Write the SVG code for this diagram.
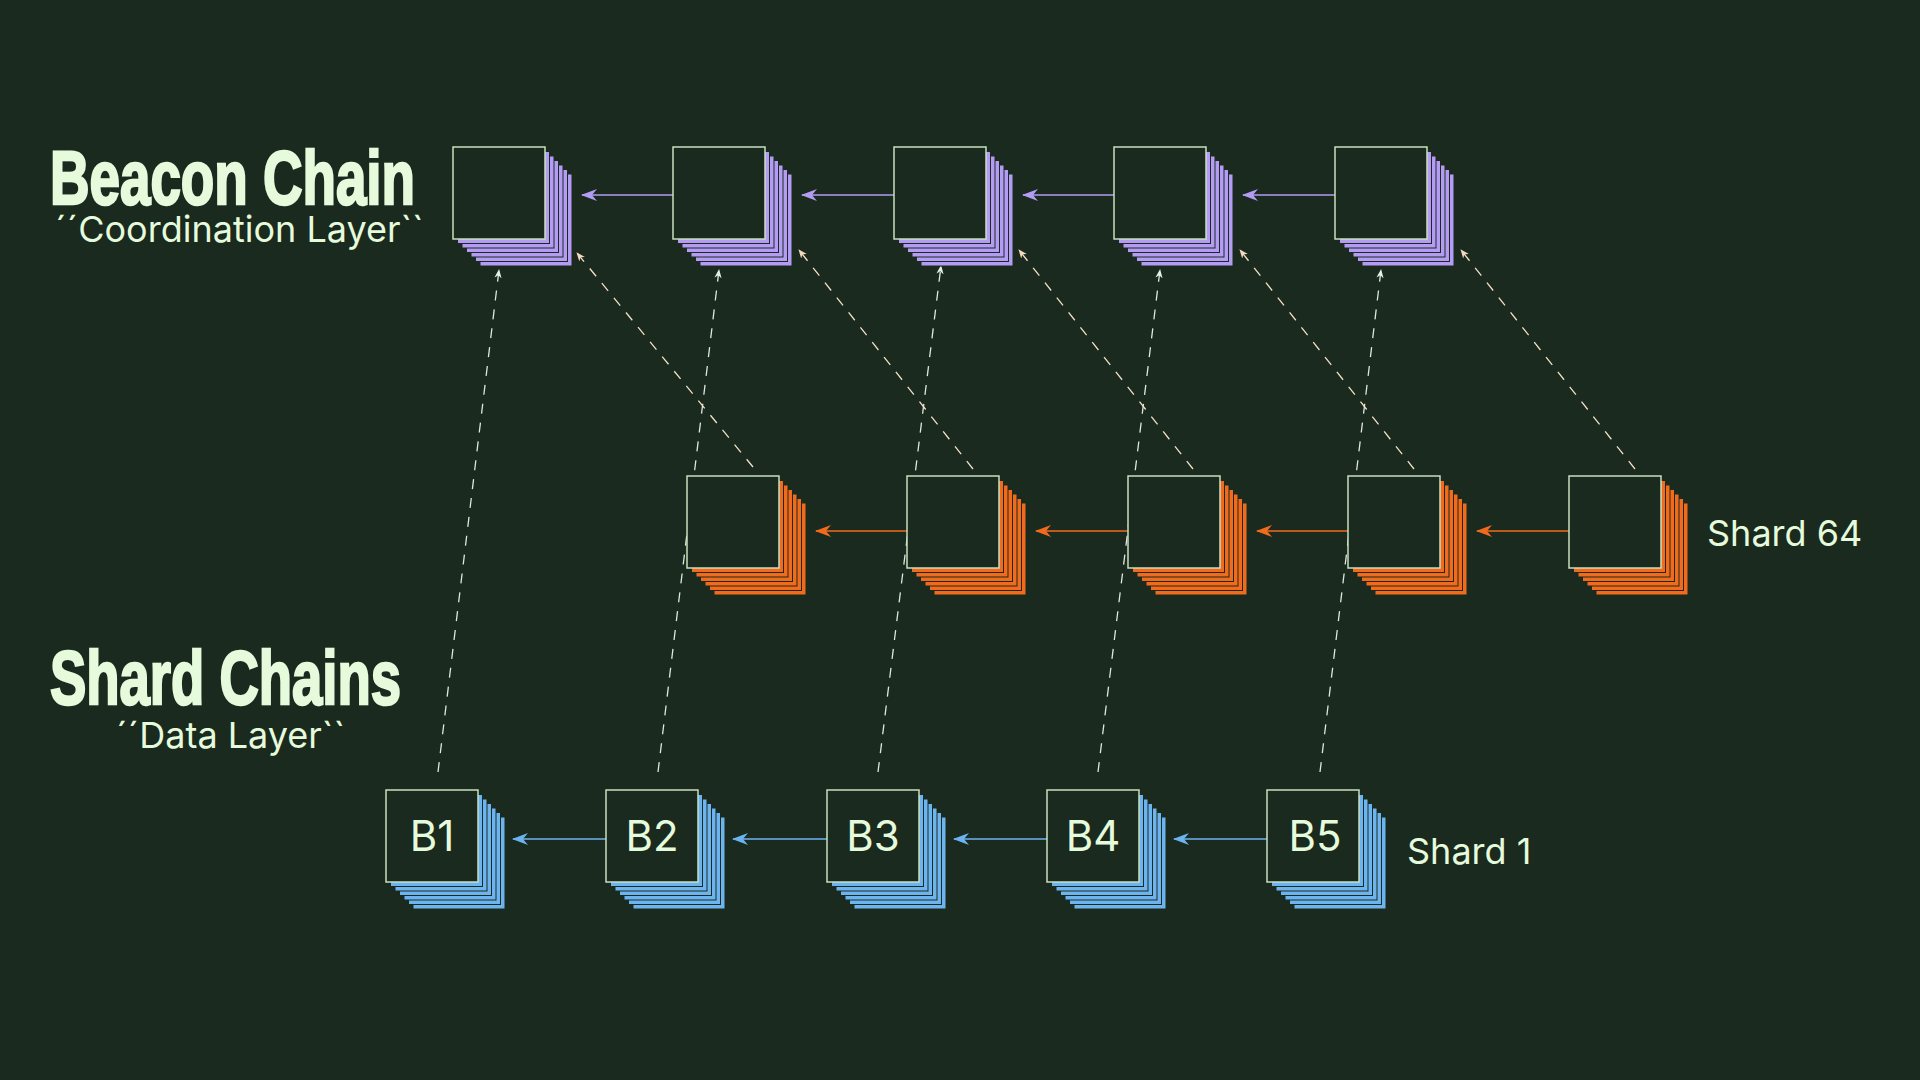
<svg xmlns="http://www.w3.org/2000/svg" width="1920" height="1080" viewBox="0 0 1920 1080">
<style>
.t{fill:#e6fadc;font-family:"Liberation Sans",Arial,sans-serif}
.h{font-weight:bold;font-size:76px;stroke:#e6fadc;stroke-width:2.5}
.s{font-size:36px;font-family:Inter,"Liberation Sans",sans-serif}
.f{fill:#1a2a1e;stroke:#c8e0c0;stroke-width:1.5}
.d{stroke:#dfe8e0;stroke-width:1.3;stroke-dasharray:10 9;fill:none}
.dp{stroke:#f5e0c8;stroke-width:1.3;stroke-dasharray:10 9;fill:none}
.lb{font-size:42px;text-anchor:middle;font-family:Inter,"Liberation Sans",sans-serif}
</style>
<defs>
<marker id="ap" viewBox="0 0 16 12" refX="15" refY="6" markerWidth="16" markerHeight="12" markerUnits="userSpaceOnUse" orient="auto"><path d="M16,6 L0,0 L5,6 L0,12Z" fill="#b49cf5"/></marker>
<marker id="ao" viewBox="0 0 16 12" refX="15" refY="6" markerWidth="16" markerHeight="12" markerUnits="userSpaceOnUse" orient="auto"><path d="M16,6 L0,0 L5,6 L0,12Z" fill="#f26b1d"/></marker>
<marker id="ab" viewBox="0 0 16 12" refX="15" refY="6" markerWidth="16" markerHeight="12" markerUnits="userSpaceOnUse" orient="auto"><path d="M16,6 L0,0 L5,6 L0,12Z" fill="#6cb4f0"/></marker>
<marker id="aw" viewBox="0 0 10 8" refX="9" refY="4" markerWidth="9" markerHeight="8" markerUnits="userSpaceOnUse" orient="auto"><path d="M10,4 L0,0 L3,4 L0,8Z" fill="#e6f0e6"/></marker>
<marker id="ak" viewBox="0 0 10 8" refX="9" refY="4" markerWidth="9" markerHeight="8" markerUnits="userSpaceOnUse" orient="auto"><path d="M10,4 L0,0 L3,4 L0,8Z" fill="#f5d8c0"/></marker>
<g id="stP"><rect x="27" y="27" width="92" height="92" fill="#b49cf5" stroke="#1a2a1e"/><rect x="22.5" y="22.5" width="92" height="92" fill="#b49cf5" stroke="#1a2a1e"/><rect x="18" y="18" width="92" height="92" fill="#b49cf5" stroke="#1a2a1e"/><rect x="13.5" y="13.5" width="92" height="92" fill="#b49cf5" stroke="#1a2a1e"/><rect x="9" y="9" width="92" height="92" fill="#b49cf5" stroke="#1a2a1e"/><rect x="4.5" y="4.5" width="92" height="92" fill="#b49cf5" stroke="#1a2a1e"/><rect class="f" x="0" y="0" width="92" height="92"/></g>
<g id="stO"><rect x="27" y="27" width="92" height="92" fill="#f26b1d" stroke="#1a2a1e"/><rect x="22.5" y="22.5" width="92" height="92" fill="#f26b1d" stroke="#1a2a1e"/><rect x="18" y="18" width="92" height="92" fill="#f26b1d" stroke="#1a2a1e"/><rect x="13.5" y="13.5" width="92" height="92" fill="#f26b1d" stroke="#1a2a1e"/><rect x="9" y="9" width="92" height="92" fill="#f26b1d" stroke="#1a2a1e"/><rect x="4.5" y="4.5" width="92" height="92" fill="#f26b1d" stroke="#1a2a1e"/><rect class="f" x="0" y="0" width="92" height="92"/></g>
<g id="stB"><rect x="27" y="27" width="92" height="92" fill="#6cb4f0" stroke="#1a2a1e"/><rect x="22.5" y="22.5" width="92" height="92" fill="#6cb4f0" stroke="#1a2a1e"/><rect x="18" y="18" width="92" height="92" fill="#6cb4f0" stroke="#1a2a1e"/><rect x="13.5" y="13.5" width="92" height="92" fill="#6cb4f0" stroke="#1a2a1e"/><rect x="9" y="9" width="92" height="92" fill="#6cb4f0" stroke="#1a2a1e"/><rect x="4.5" y="4.5" width="92" height="92" fill="#6cb4f0" stroke="#1a2a1e"/><rect class="f" x="0" y="0" width="92" height="92"/></g>
</defs>
<rect width="1920" height="1080" fill="#1a2a1e"/>
<text class="t h" x="50" y="204" textLength="365" lengthAdjust="spacingAndGlyphs">Beacon Chain</text>
<text class="t s" x="55" y="242">´´Coordination Layer``</text>
<text class="t h" x="50" y="704" textLength="351" lengthAdjust="spacingAndGlyphs">Shard Chains</text>
<text class="t s" x="116" y="748">´´Data Layer``</text>
<text class="t s" x="1707" y="546" font-size="40">Shard 64</text>
<text class="t s" x="1407" y="864" font-size="38">Shard 1</text>
<g id="connectors">
<line x1="673" y1="195" x2="582" y2="195" stroke="#b49cf5" stroke-width="1.5" marker-end="url(#ap)"/>
<line x1="894" y1="195" x2="802" y2="195" stroke="#b49cf5" stroke-width="1.5" marker-end="url(#ap)"/>
<line x1="1114" y1="195" x2="1023" y2="195" stroke="#b49cf5" stroke-width="1.5" marker-end="url(#ap)"/>
<line x1="1335" y1="195" x2="1243" y2="195" stroke="#b49cf5" stroke-width="1.5" marker-end="url(#ap)"/>
<line x1="907" y1="531" x2="816" y2="531" stroke="#f26b1d" stroke-width="1.5" marker-end="url(#ao)"/>
<line x1="1128" y1="531" x2="1036" y2="531" stroke="#f26b1d" stroke-width="1.5" marker-end="url(#ao)"/>
<line x1="1348" y1="531" x2="1257" y2="531" stroke="#f26b1d" stroke-width="1.5" marker-end="url(#ao)"/>
<line x1="1569" y1="531" x2="1477" y2="531" stroke="#f26b1d" stroke-width="1.5" marker-end="url(#ao)"/>
<line x1="606" y1="839" x2="513" y2="839" stroke="#6cb4f0" stroke-width="1.5" marker-end="url(#ab)"/>
<line x1="827" y1="839" x2="733" y2="839" stroke="#6cb4f0" stroke-width="1.5" marker-end="url(#ab)"/>
<line x1="1047" y1="839" x2="954" y2="839" stroke="#6cb4f0" stroke-width="1.5" marker-end="url(#ab)"/>
<line x1="1267" y1="839" x2="1174" y2="839" stroke="#6cb4f0" stroke-width="1.5" marker-end="url(#ab)"/>
<line class="d" x1="438" y1="772" x2="499" y2="270" marker-end="url(#aw)"/>
<line class="d" x1="658" y1="772" x2="719" y2="270" marker-end="url(#aw)"/>
<line class="d" x1="878" y1="772" x2="941" y2="266" marker-end="url(#aw)"/>
<line class="d" x1="1098" y1="772" x2="1160" y2="270" marker-end="url(#aw)"/>
<line class="d" x1="1320" y1="772" x2="1381" y2="270" marker-end="url(#aw)"/>
<line class="dp" x1="753" y1="467" x2="577" y2="253" marker-end="url(#ak)"/>
<line class="dp" x1="973" y1="469" x2="799" y2="250" marker-end="url(#ak)"/>
<line class="dp" x1="1193" y1="469" x2="1019" y2="250" marker-end="url(#ak)"/>
<line class="dp" x1="1414" y1="469" x2="1240" y2="250" marker-end="url(#ak)"/>
<line class="dp" x1="1635" y1="469" x2="1461" y2="250" marker-end="url(#ak)"/>
</g>
<g id="beacon1"><use href="#stP" x="453" y="147"/></g>
<g id="beacon2"><use href="#stP" x="673" y="147"/></g>
<g id="beacon3"><use href="#stP" x="894" y="147"/></g>
<g id="beacon4"><use href="#stP" x="1114" y="147"/></g>
<g id="beacon5"><use href="#stP" x="1335" y="147"/></g>
<g id="s64a"><use href="#stO" x="687" y="476"/></g>
<g id="s64b"><use href="#stO" x="907" y="476"/></g>
<g id="s64c"><use href="#stO" x="1128" y="476"/></g>
<g id="s64d"><use href="#stO" x="1348" y="476"/></g>
<g id="s64e"><use href="#stO" x="1569" y="476"/></g>
<g id="b1"><use href="#stB" x="386" y="790"/><text class="t lb" x="432" y="851">B1</text></g>
<g id="b2"><use href="#stB" x="606" y="790"/><text class="t lb" x="652" y="851">B2</text></g>
<g id="b3"><use href="#stB" x="827" y="790"/><text class="t lb" x="873" y="851">B3</text></g>
<g id="b4"><use href="#stB" x="1047" y="790"/><text class="t lb" x="1093" y="851">B4</text></g>
<g id="b5"><use href="#stB" x="1267" y="790"/><text class="t lb" x="1315" y="851">B5</text></g>
</svg>
